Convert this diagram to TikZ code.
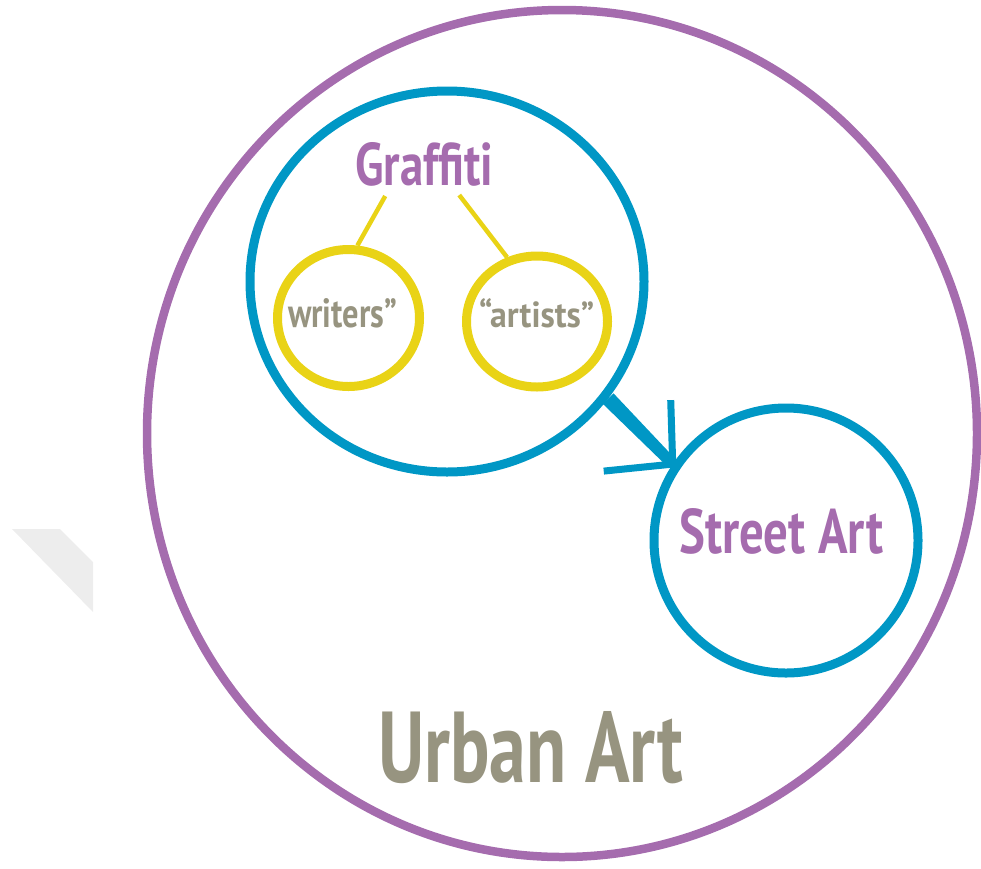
\documentclass[tikz,border=0pt]{standalone}
\usepackage{fontspec}
\setmainfont{PT Sans}
\usetikzlibrary{shapes.geometric,calc}

\definecolor{urbanpurple}{RGB}{165,108,174}
\definecolor{streetblue}{RGB}{0,151,197}
\definecolor{tagyellow}{RGB}{233,211,22}
\definecolor{labelgray}{RGB}{151,148,128}
\definecolor{shadowgray}{RGB}{237,237,237}

% condensed display lettering: squeeze bold text into a given width and height
\newcommand\fitlabel[3]{\resizebox{#1pt}{#2pt}{\bfseries #3}}

\begin{document}
\begin{tikzpicture}[x=1pt,y=-1pt,
  ring/.style={ellipse,inner sep=0pt},
  txt/.style={inner sep=0pt,anchor=base west},
  tagline/.style={draw=tagyellow,line width=4.5pt},
  barb/.style={draw=streetblue,line width=7pt,line join=miter}]

\useasboundingbox (0,0) rectangle (981,868);

% grey sliver at the left margin
\fill[shadowgray] (12,529) -- (60,529) -- (93,562) -- (93,612) -- cycle;

% rings
\node[ring,draw=urbanpurple,line width=8.5pt,minimum width=830pt,minimum height=847pt] (ua) at (562,433.5) {};
\node[ring,draw=streetblue,line width=9pt,minimum width=394pt,minimum height=381pt] (gf) at (447,281.5) {};
\node[ring,draw=streetblue,line width=9pt,minimum width=264pt,minimum height=265pt] (sa) at (786,540.5) {};
\node[ring,draw=tagyellow,line width=9pt,minimum width=142pt,minimum height=137pt] (wr) at (348.5,318) {};
\node[ring,draw=tagyellow,line width=9pt,minimum width=141pt,minimum height=131pt] (ar) at (537,321.5) {};

% labels
\node[txt,text=urbanpurple] (gfl) at (355,185) {\fitlabel{138}{43}{Graffiti}};
\node[txt,text=urbanpurple] (sal) at (679,553) {\fitlabel{204}{45}{Street Art}};
\node[txt,text=labelgray] (ual) at (378,782) {\fitlabel{305}{71}{Urban Art}};
\node[txt,text=labelgray] (wrl) at (288,327) {\fitlabel{109}{29}{writers”}};
\node[txt,text=labelgray] (arl) at (479,327) {\fitlabel{115}{29}{“artists”}};

% Graffiti splits into writers and artists
\coordinate (gfa) at ($(gfl.south)+(-39,10)$);
\coordinate (gfb) at ($(gfl.south)+(35,9)$);
\draw[tagline] (gfa) -- (wr.83);
\draw[tagline] (gfb) -- (ar.115);

% Graffiti leads to Street Art: tapered shaft with an open head
\coordinate (as) at (gf.-36.5);
\coordinate (at) at (sa.146);
\fill[streetblue] ($(as)!7.5pt!90:(at)$) -- ($(at)!5.5pt!-90:(as)$)
  -- ($(at)!5.5pt!90:(as)$) -- ($(as)!7.5pt!-90:(at)$) -- cycle;
\draw[barb] ($(at)+(-2,-64)$) -- (at) -- ($(at)+(-69,7)$);

\end{tikzpicture}
\end{document}
